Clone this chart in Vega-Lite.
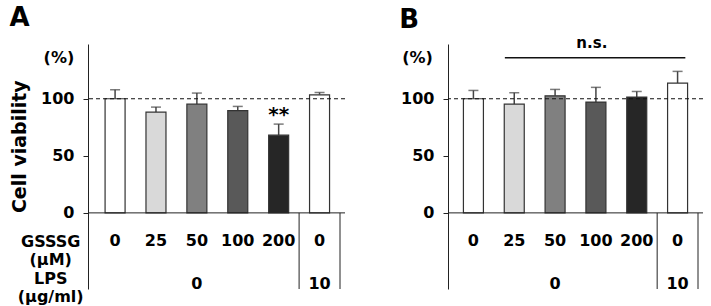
{
  "$schema": "https://vega.github.io/schema/vega-lite/v6.json",
  "padding": {"left": 9, "top": 5, "right": 0, "bottom": 0},
  "spacing": 103,
  "bounds": "flush",
  "background": "white",
  "config": {
    "view": {"stroke": null},
    "font": "DejaVu Sans",
    "axis": {"labelFont": "DejaVu Sans", "labelFontWeight": "bold", "labelFontSize": 16, "labelColor": "black", "domainColor": "#222", "tickColor": "#222", "tickSize": 5, "labelPadding": 9, "grid": false, "title": null},
    "text": {"font": "DejaVu Sans", "fontWeight": "bold", "color": "black"}
  },
  "datasets": {
    "bars": [
      {"panel": "A", "idx": 1, "gsssg": "0", "value": 100, "hi": 107.9, "sig": ""},
      {"panel": "A", "idx": 2, "gsssg": "25", "value": 88.3, "hi": 92.7, "sig": ""},
      {"panel": "A", "idx": 3, "gsssg": "50", "value": 95.3, "hi": 105, "sig": ""},
      {"panel": "A", "idx": 4, "gsssg": "100", "value": 89.7, "hi": 93.3, "sig": ""},
      {"panel": "A", "idx": 5, "gsssg": "200", "value": 68.1, "hi": 77.8, "sig": "**"},
      {"panel": "A", "idx": 6, "gsssg": "0", "value": 103.5, "hi": 105.5, "sig": ""},
      {"panel": "B", "idx": 1, "gsssg": "0", "value": 100, "hi": 107.3, "sig": ""},
      {"panel": "B", "idx": 2, "gsssg": "25", "value": 95.3, "hi": 105.3, "sig": ""},
      {"panel": "B", "idx": 3, "gsssg": "50", "value": 102.6, "hi": 108.2, "sig": ""},
      {"panel": "B", "idx": 4, "gsssg": "100", "value": 97.1, "hi": 110, "sig": ""},
      {"panel": "B", "idx": 5, "gsssg": "200", "value": 101.5, "hi": 106.4, "sig": ""},
      {"panel": "B", "idx": 6, "gsssg": "0", "value": 113.7, "hi": 124, "sig": ""}
    ],
    "lps": [
      {"panel": "A", "idx": 3, "lps": "0"},
      {"panel": "A", "idx": 6, "lps": "10"},
      {"panel": "B", "idx": 3, "lps": "0"},
      {"panel": "B", "idx": 6, "lps": "10"}
    ]
  },
  "hconcat": [
    {
      "width": 257,
      "height": 245,
      "data": {"name": "bars"},
      "transform": [{"filter": "datum.panel === 'A'"}],
      "layer": [
        {
          "mark": {"type": "rule", "color": "#444", "strokeWidth": 1.5},
          "encoding": {
            "x": {"field": "idx", "type": "quantitative", "scale": {"domain": [0.46, 6.5], "nice": false, "zero": false}, "axis": null},
            "y": {"field": "value", "type": "quantitative", "scale": {"domain": [-66.7, 148], "nice": false, "zero": false}, "axis": {"values": [0, 50, 100], "title": null}},
            "y2": {"field": "hi"}
          }
        },
        {
          "mark": {"type": "tick", "orient": "horizontal", "color": "#444", "thickness": 1.5, "size": 10},
          "encoding": {
            "x": {"field": "idx", "type": "quantitative", "axis": null},
            "y": {"field": "hi", "type": "quantitative", "title": null}
          }
        },
        {
          "mark": {"type": "bar", "width": 20, "stroke": "#333", "strokeWidth": 1.2, "orient": "vertical"},
          "encoding": {
            "x": {"field": "idx", "type": "quantitative", "axis": null},
            "y": {"field": "value", "type": "quantitative", "title": null},
            "y2": {"datum": 0},
            "fill": {"field": "gsssg", "type": "nominal", "scale": {"domain": ["0", "25", "50", "100", "200"], "range": ["#ffffff", "#d9d9d9", "#808080", "#595959", "#262626"]}, "legend": null}
          }
        },
        {
          "data": {"values": [{}]},
          "mark": {"type": "rule", "strokeDash": [4, 3], "color": "#111", "strokeWidth": 1.2},
          "encoding": {"y": {"datum": 100, "type": "quantitative", "title": null}}
        },
        {
          "data": {"values": [{}]},
          "mark": {"type": "rule", "color": "#222"},
          "encoding": {"y": {"datum": 0, "type": "quantitative", "title": null}}
        },
        {
          "data": {"values": [{"x": 5.5}, {"x": 6.5}]},
          "mark": {"type": "rule", "color": "#222"},
          "encoding": {
            "x": {"field": "x", "type": "quantitative", "axis": null},
            "y": {"datum": 0, "type": "quantitative", "title": null},
            "y2": {"datum": -66.7}
          }
        },
        {
          "mark": {"type": "text", "fontSize": 16, "baseline": "middle"},
          "encoding": {
            "x": {"field": "idx", "type": "quantitative", "axis": null},
            "y": {"datum": -24.2, "type": "quantitative", "title": null},
            "text": {"field": "gsssg"}
          }
        },
        {
          "mark": {"type": "text", "fontSize": 20, "baseline": "alphabetic", "dy": -3},
          "encoding": {
            "x": {"field": "idx", "type": "quantitative", "axis": null},
            "y": {"field": "hi", "type": "quantitative", "title": null},
            "text": {"field": "sig"}
          }
        },
        {
          "data": {"name": "lps"},
          "transform": [{"filter": "datum.panel === 'A'"}],
          "mark": {"type": "text", "fontSize": 16, "baseline": "middle"},
          "encoding": {
            "x": {"field": "idx", "type": "quantitative", "axis": null},
            "y": {"datum": -62.7, "type": "quantitative", "title": null},
            "text": {"field": "lps"}
          }
        },
        {
          "data": {"values": [{}]},
          "mark": {"type": "text", "text": ["GSSSG", "(µM)"], "fontSize": 16, "lineHeight": 18, "baseline": "middle"},
          "encoding": {
            "x": {"datum": -0.574, "type": "quantitative", "axis": null},
            "y": {"datum": -25.9, "type": "quantitative", "title": null}
          }
        },
        {
          "data": {"values": [{}]},
          "mark": {"type": "text", "text": ["LPS", "(µg/ml)"], "fontSize": 16, "lineHeight": 18, "baseline": "middle"},
          "encoding": {
            "x": {"datum": -0.574, "type": "quantitative", "axis": null},
            "y": {"datum": -58.0, "type": "quantitative", "title": null}
          }
        },
        {
          "data": {"values": [{}]},
          "mark": {"type": "text", "text": "Cell viability", "fontSize": 19, "angle": 270, "baseline": "middle"},
          "encoding": {
            "x": {"datum": -1.326, "type": "quantitative", "axis": null},
            "y": {"datum": 58, "type": "quantitative", "title": null}
          }
        },
        {
          "data": {"values": [{}]},
          "mark": {"type": "text", "text": "(%)", "fontSize": 16, "baseline": "middle"},
          "encoding": {
            "x": {"datum": -0.374, "type": "quantitative", "axis": null},
            "y": {"datum": 135.3, "type": "quantitative", "title": null}
          }
        },
        {
          "data": {"values": [{}]},
          "mark": {"type": "text", "text": "A", "fontSize": 26, "baseline": "middle"},
          "encoding": {
            "x": {"datum": -1.338, "type": "quantitative", "axis": null},
            "y": {"datum": 170.4, "type": "quantitative", "title": null}
          }
        }
      ]
    },
    {
      "width": 255,
      "height": 245,
      "data": {"name": "bars"},
      "transform": [{"filter": "datum.panel === 'B'"}],
      "layer": [
        {
          "mark": {"type": "rule", "color": "#444", "strokeWidth": 1.5},
          "encoding": {
            "x": {"field": "idx", "type": "quantitative", "scale": {"domain": [0.5, 6.5], "nice": false, "zero": false}, "axis": null},
            "y": {"field": "value", "type": "quantitative", "scale": {"domain": [-66.7, 148], "nice": false, "zero": false}, "axis": {"values": [0, 50, 100], "title": null}},
            "y2": {"field": "hi"}
          }
        },
        {
          "mark": {"type": "tick", "orient": "horizontal", "color": "#444", "thickness": 1.5, "size": 10},
          "encoding": {
            "x": {"field": "idx", "type": "quantitative", "axis": null},
            "y": {"field": "hi", "type": "quantitative", "title": null}
          }
        },
        {
          "mark": {"type": "bar", "width": 20, "stroke": "#333", "strokeWidth": 1.2, "orient": "vertical"},
          "encoding": {
            "x": {"field": "idx", "type": "quantitative", "axis": null},
            "y": {"field": "value", "type": "quantitative", "title": null},
            "y2": {"datum": 0},
            "fill": {"field": "gsssg", "type": "nominal", "scale": {"domain": ["0", "25", "50", "100", "200"], "range": ["#ffffff", "#d9d9d9", "#808080", "#595959", "#262626"]}, "legend": null}
          }
        },
        {
          "data": {"values": [{}]},
          "mark": {"type": "rule", "strokeDash": [4, 3], "color": "#111", "strokeWidth": 1.2},
          "encoding": {"y": {"datum": 100, "type": "quantitative", "title": null}}
        },
        {
          "data": {"values": [{}]},
          "mark": {"type": "rule", "color": "#222"},
          "encoding": {"y": {"datum": 0, "type": "quantitative", "title": null}}
        },
        {
          "data": {"values": [{"x": 5.5}, {"x": 6.5}]},
          "mark": {"type": "rule", "color": "#222"},
          "encoding": {
            "x": {"field": "x", "type": "quantitative", "axis": null},
            "y": {"datum": 0, "type": "quantitative", "title": null},
            "y2": {"datum": -66.7}
          }
        },
        {
          "mark": {"type": "text", "fontSize": 16, "baseline": "middle"},
          "encoding": {
            "x": {"field": "idx", "type": "quantitative", "axis": null},
            "y": {"datum": -24.2, "type": "quantitative", "title": null},
            "text": {"field": "gsssg"}
          }
        },
        {
          "data": {"name": "lps"},
          "transform": [{"filter": "datum.panel === 'B'"}],
          "mark": {"type": "text", "fontSize": 16, "baseline": "middle"},
          "encoding": {
            "x": {"field": "idx", "type": "quantitative", "axis": null},
            "y": {"datum": -62.7, "type": "quantitative", "title": null},
            "text": {"field": "lps"}
          }
        },
        {
          "data": {"values": [{}]},
          "mark": {"type": "rule", "color": "#111", "strokeWidth": 1.5},
          "encoding": {
            "x": {"datum": 1.77, "type": "quantitative", "axis": null},
            "x2": {"datum": 6.19},
            "y": {"datum": 136, "type": "quantitative", "title": null}
          }
        },
        {
          "data": {"values": [{}]},
          "mark": {"type": "text", "text": "n.s.", "fontSize": 15, "baseline": "middle"},
          "encoding": {
            "x": {"datum": 3.9, "type": "quantitative", "axis": null},
            "y": {"datum": 149.2, "type": "quantitative", "title": null}
          }
        },
        {
          "data": {"values": [{}]},
          "mark": {"type": "text", "text": "(%)", "fontSize": 16, "baseline": "middle"},
          "encoding": {
            "x": {"datum": -0.37, "type": "quantitative", "axis": null},
            "y": {"datum": 135.3, "type": "quantitative", "title": null}
          }
        },
        {
          "data": {"values": [{}]},
          "mark": {"type": "text", "text": "B", "fontSize": 26, "baseline": "middle"},
          "encoding": {
            "x": {"datum": -0.571, "type": "quantitative", "axis": null},
            "y": {"datum": 169, "type": "quantitative", "title": null}
          }
        }
      ]
    }
  ]
}
